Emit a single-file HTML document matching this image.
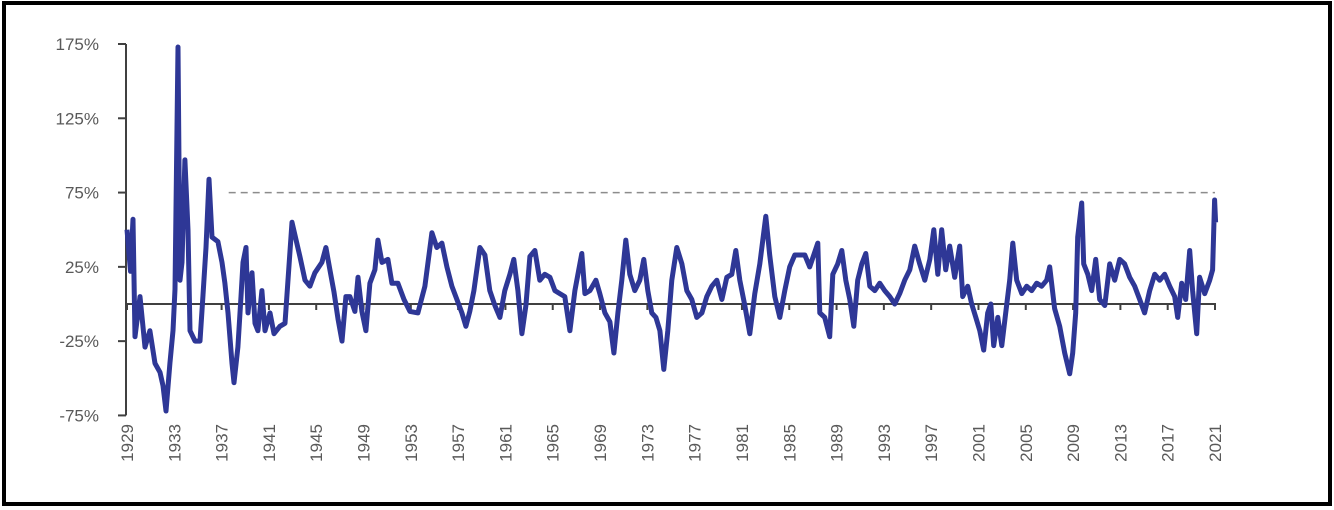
<!DOCTYPE html>
<html><head><meta charset="utf-8"><style>
html,body{margin:0;padding:0;background:#fff;}
svg{display:block;font-family:"Liberation Sans",sans-serif;}
</style></head><body>
<svg id="chart" width="1334" height="510" viewBox="0 0 1334 510" xmlns="http://www.w3.org/2000/svg">
<rect x="4" y="3" width="1326" height="501" fill="#fff" stroke="#000" stroke-width="4"/>
<g id="axes"></g>
<g id="plot"></g>
</svg>
<script>
const years=[1929.0,1929.3,1929.51,1929.68,1930.1,1930.52,1930.94,1931.37,1931.79,1932.04,1932.3,1932.63,1932.89,1933.06,1933.31,1933.48,1933.65,1933.9,1934.16,1934.33,1934.75,1935.17,1935.42,1935.68,1935.93,1936.19,1936.69,1937.03,1937.28,1937.54,1937.88,1938.05,1938.38,1938.64,1938.81,1939.06,1939.23,1939.57,1939.82,1940.07,1940.41,1940.67,1941.09,1941.43,1941.93,1942.36,1942.95,1943.62,1944.05,1944.47,1944.89,1945.48,1945.82,1946.16,1946.5,1946.84,1947.18,1947.51,1947.85,1948.27,1948.53,1948.86,1949.2,1949.54,1949.96,1950.22,1950.56,1951.06,1951.4,1951.91,1952.42,1952.92,1953.6,1954.19,1954.78,1955.2,1955.63,1956.05,1956.47,1956.9,1957.32,1957.66,1957.99,1958.33,1958.84,1959.26,1959.68,1960.11,1960.53,1960.95,1961.38,1961.71,1962.05,1962.39,1962.73,1963.07,1963.49,1963.91,1964.33,1964.76,1965.18,1965.6,1966.02,1966.45,1966.87,1967.46,1967.72,1968.14,1968.65,1968.98,1969.41,1969.83,1970.17,1970.51,1970.84,1971.18,1971.52,1971.94,1972.36,1972.7,1973.04,1973.38,1973.72,1974.06,1974.39,1974.73,1975.07,1975.49,1975.92,1976.34,1976.76,1977.18,1977.61,1978.03,1978.45,1978.87,1979.3,1979.72,1980.14,1980.48,1980.82,1981.24,1981.66,1982.09,1982.51,1983.02,1983.35,1983.78,1984.2,1984.62,1985.04,1985.47,1985.89,1986.31,1986.73,1987.41,1987.58,1988.0,1988.42,1988.68,1989.1,1989.44,1989.78,1990.12,1990.46,1990.79,1991.13,1991.47,1991.81,1992.23,1992.65,1993.07,1993.5,1993.92,1994.34,1994.76,1995.19,1995.61,1996.03,1996.46,1996.88,1997.22,1997.56,1997.89,1998.23,1998.57,1998.99,1999.41,1999.67,2000.09,2000.43,2000.77,2001.11,2001.44,2001.78,2002.04,2002.29,2002.63,2002.97,2003.3,2003.64,2003.9,2004.23,2004.66,2005.08,2005.5,2005.92,2006.35,2006.77,2007.02,2007.44,2007.87,2008.29,2008.71,2008.97,2009.22,2009.39,2009.73,2009.9,2010.24,2010.57,2010.91,2011.25,2011.68,2012.1,2012.52,2012.94,2013.36,2013.79,2014.21,2014.63,2015.05,2015.48,2015.9,2016.32,2016.75,2017.17,2017.59,2017.85,2018.18,2018.52,2018.86,2019.11,2019.45,2019.7,2020.13,2020.55,2020.8,2020.97,2021.05];
const returns=[50,22,57,-22,5,-29,-18,-40,-46,-55,-72,-40,-18,10,173,16,28,97,50,-18,-25,-25,5,38,84,45,42,28,14,-6,-40,-53,-29,5,28,38,-6,21,-13,-18,9,-18,-6,-20,-15,-13,55,32,16,12,21,28,38,23,8,-10,-25,5,5,-5,18,-5,-18,14,23,43,28,30,14,14,3,-5,-6,12,48,38,41,25,12,3,-6,-15,-5,9,38,33,9,-1,-9,9,20,30,9,-20,-1,32,36,16,20,18,9,7,5,-18,9,34,7,9,16,7,-6,-12,-33,-6,16,43,20,9,16,30,9,-6,-9,-18,-44,-18,16,38,27,9,3,-9,-6,5,12,16,3,18,20,36,16,-1,-20,7,27,59,33,5,-9,9,25,33,33,33,25,41,-6,-9,-22,20,27,36,16,3,-15,16,27,34,12,9,14,9,5,0,7,16,23,39,27,16,30,50,20,50,23,39,18,39,5,12,0,-9,-18,-31,-6,0,-28,-9,-28,-6,16,41,16,7,12,9,14,12,16,25,-3,-15,-33,-47,-33,-6,45,68,27,20,9,30,3,-1,27,16,30,27,18,12,3,-6,9,20,16,20,12,5,-9,14,3,36,9,-20,18,7,16,23,70,55];
const yTicks=[-75,-25,25,75,125,175];
const xTickYears=[1929,1933,1937,1941,1945,1949,1953,1957,1961,1965,1969,1973,1977,1981,1985,1989,1993,1997,2001,2005,2009,2013,2017,2021];
const refLevel=[75];
const zeroLevel=[0];

const NS="http://www.w3.org/2000/svg";
const xS=y=>127+(y-1929)*(1215-127)/(2021-1929);
const yS=v=>304-v*(304-44)/175;
function mk(tag,attrs,parent){const e=document.createElementNS(NS,tag);for(const k in attrs)e.setAttribute(k,attrs[k]);parent.appendChild(e);return e;}
const axes=document.getElementById('axes'),plot=document.getElementById('plot');

const yAxis=mk('line',{x1:126,y1:yS(175),x2:126,y2:yS(-75),stroke:'#404040','stroke-width':2},axes);


yTicks.forEach(v=>{
  const t=mk('line',{x1:118,x2:126,y1:yS(v),y2:yS(v),stroke:'#404040','stroke-width':2},axes);
  
  
  const l=mk('text',{x:99,y:yS(v)+6,'text-anchor':'end','font-size':17,fill:'#595959'},axes);
  
  
  l.textContent=v+'%';
});
const zl=mk('line',{x1:126,x2:1216,y1:yS(zeroLevel[0]),y2:yS(zeroLevel[0]),stroke:'#404040','stroke-width':2},axes);


xTickYears.forEach(yr=>{
  const x=xS(yr);
  const t=mk('line',{x1:x,x2:x,y1:yS(0),y2:yS(0)+6,stroke:'#404040','stroke-width':2},axes);
  
  
  const l=mk('text',{x:0,y:0,transform:`translate(${x+6},424) rotate(-90)`,'text-anchor':'end','font-size':17,fill:'#595959'},axes);
  
  
  l.textContent=yr;
});
const ref=mk('line',{x1:xS(1937.6),x2:xS(2021),y1:yS(refLevel[0]),y2:yS(refLevel[0]),stroke:'#8c8c8c','stroke-width':1.5,'stroke-dasharray':'7 5'},plot);


const d=years.map((y,i)=>(i?'L':'M')+xS(y).toFixed(1)+','+yS(returns[i]).toFixed(1)).join(' ');
const p=mk('path',{d:d,fill:'none',stroke:'#2e3796','stroke-width':5,'stroke-linejoin':'round'},plot);


</script>
</body></html>
